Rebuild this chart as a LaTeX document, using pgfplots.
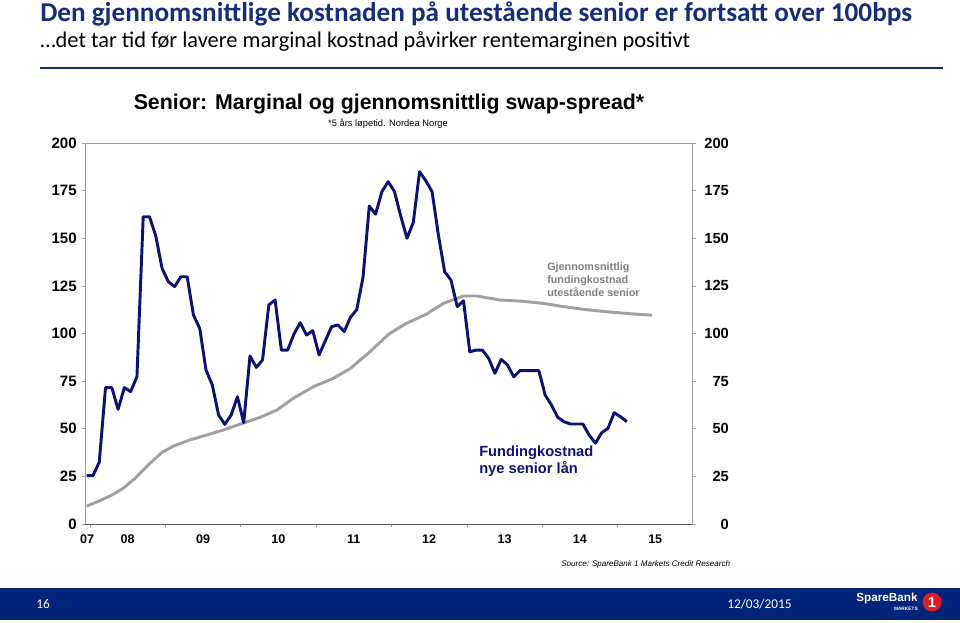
\documentclass[border=0pt]{standalone}
\usepackage{fontspec}
\usepackage{pgfplots}
\pgfplotsset{compat=1.18}
\setmainfont{Liberation Sans}
\newfontfamily\calfont{Carlito}
\definecolor{navyline}{RGB}{12,18,112}
\definecolor{titleblue}{RGB}{22,45,120}
\definecolor{barblue}{RGB}{0,36,122}
\definecolor{avggray}{RGB}{160,160,160}
\definecolor{spred}{RGB}{220,30,40}

\pgfplotstableread{
x y
0 25.4
1 25.4
2 32.4
3 71.6
4 71.6
5 60.2
6 71.6
7 69.5
8 77.3
9 161.3
10 161.3
11 151.2
12 134.2
13 127.2
14 124.6
15 129.8
16 129.8
17 109.7
18 102.7
19 80.8
20 73
21 57.2
22 52.3
23 57.2
24 66.8
25 53.2
26 88.2
27 82.2
28 86.1
29 115
30 117.6
31 91.3
32 91.3
33 99.7
34 105.7
35 99.2
36 101.5
37 88.7
38 96.2
39 103.6
40 104.5
41 101
42 108.5
43 112.5
44 129.5
45 166.9
46 162.6
47 174.4
48 179.7
49 174.6
50 161.7
51 150
52 158.2
53 184.9
54 180.2
55 174.4
56 151.7
57 132.4
58 128.1
59 114.1
60 117.2
61 90.4
62 91.3
63 91.3
64 87
65 79.1
66 86.4
67 83.5
68 77.3
69 80.5
70 80.5
71 80.5
72 80.5
73 67.7
74 62.5
75 56
76 53.7
77 52.5
78 52.5
79 52.5
80 46.7
81 42.4
82 47.9
83 50.2
84 58.4
85 56.3
86 53.7
}\newsenior

\pgfplotstableread{
x y
0 9.4
2.1 12.2
4 15.2
5.8 18.7
7.7 24
9.8 31
12 37.6
13.8 40.9
16.4 44.1
19.1 46.7
21.7 49.3
24.9 52.9
27.6 56
30.3 59.8
32.9 66
36.1 72.1
39.3 76.5
42 81.7
45.1 90.4
48 99.4
49.8 103.2
50.9 105.3
54.1 110.2
56.8 115.8
60 119.7
62.1 119.7
65.8 117.6
69.5 116.9
72.7 115.8
75.9 114.1
79.1 112.7
82.8 111.4
86.5 110.4
90 109.6
}\avgsenior

\begin{document}
\begin{tikzpicture}[x=0.75pt,y=0.75pt]
\path[use as bounding box] (0,0) rectangle (960,622);
% slide header
\node[anchor=west, inner sep=0pt, text=titleblue, font=\calfont\bfseries\fontsize{20.4}{23}\selectfont] at (40,622-14) {Den gjennomsnittlige kostnaden på utestående senior er fortsatt over 100bps};
\node[anchor=west, inner sep=0pt, text=black, font=\calfont\fontsize{16.8}{19}\selectfont] at (40,622-41) {…det tar tid før lavere marginal kostnad påvirker rentemarginen positivt};
\draw[titleblue, line width=1pt] (40,622-68) -- (943,622-68);

% chart titles
\node[inner sep=0pt, font=\bfseries\fontsize{16}{19}\selectfont] at (389,622-104) {Senior: Marginal og gjennomsnittlig swap-spread*};
\node[inner sep=0pt, font=\fontsize{7}{8}\selectfont] at (388,622-124) {*5 års løpetid. Nordea Norge};

\begin{axis}[
  at={(63.75pt,73.5pt)}, anchor=south west,
  scale only axis, width=455.55pt, height=285.75pt,
  xmin=-0.27, xmax=96.45, ymin=0, ymax=200,
  /pgf/number format/assume math mode=true,
  axis line style={gray!75, line width=0.6pt},
  tick style={gray!75, line width=0.5pt},
  tick align=outside, major tick length=2.5pt,
  tick pos=left,
  ytick={0,25,50,75,100,125,150,175,200},
  yticklabel style={font=\bfseries\fontsize{11.3}{13}\selectfont, anchor=east, inner sep=0pt, xshift=-3.5pt},
  xtick={0.53,12.53,24.53,36.53,48.53,60.53,72.53,84.53},
  xticklabels={},
  extra x ticks={0.05,6.53,18.53,30.53,42.53,54.53,66.53,78.53,90.53},
  extra x tick labels={07,08,09,10,11,12,13,14,15},
  extra x tick style={major tick length=0pt, xticklabel style={font=\bfseries\fontsize{9.4}{11}\selectfont, anchor=base, inner sep=0pt, yshift=-14.25pt}},
  clip=false,
]
\addplot[avggray, line width=2.2pt, line join=round] table[x=x,y=y] {\avgsenior};
\addplot[navyline, line width=2.2pt, line join=round] table[x=x,y=y] {\newsenior};
\draw[black!65, line width=0.7pt] (axis cs:-0.27,0) -- (axis cs:96.45,0);
\end{axis}
\begin{axis}[
  at={(63.75pt,73.5pt)}, anchor=south west,
  scale only axis, width=455.55pt, height=285.75pt,
  xmin=-0.27, xmax=96.45, ymin=0, ymax=200,
  /pgf/number format/assume math mode=true,
  axis y line*=right, axis x line=none,
  axis line style={gray!75, line width=0.6pt},
  tick style={gray!75, line width=0.5pt},
  tick align=outside, major tick length=2.5pt,
  ytick={0,25,50,75,100,125,150,175,200},
  yticklabel style={font=\bfseries\fontsize{11}{13}\selectfont, anchor=east, inner sep=0pt, xshift=25pt},
]
\end{axis}

% annotations
\node[anchor=north west, align=left, inner sep=0pt, text=gray, font=\bfseries\fontsize{8.1}{9.75}\selectfont] at (547,622-262) {Gjennomsnittlig\\fundingkostnad\\utestående senior};
\node[anchor=north west, align=left, inner sep=0pt, text=navyline, font=\bfseries\fontsize{11}{12.75}\selectfont] at (479,622-446) {Fundingkostnad\\nye senior lån};
\node[anchor=west, inner sep=0pt, font=\itshape\fontsize{6.05}{7}\selectfont] at (561,622-564) {Source: SpareBank 1 Markets Credit Research};

% footer bar
\fill[barblue] (0,622-620) rectangle (960,622-588);
\node[anchor=west, inner sep=0pt, text=white, font=\calfont\fontsize{10}{12}\selectfont] at (36,622-604) {16};
\node[anchor=west, inner sep=0pt, text=white, font=\calfont\fontsize{10}{12}\selectfont] at (727,622-604) {12/03/2015};
\node[anchor=west, inner sep=0pt, text=white, font=\bfseries\fontsize{8.8}{10}\selectfont] at (856,622-598) {SpareBank};
\node[anchor=east, inner sep=0pt, text=white, font=\bfseries\fontsize{3.6}{4}\selectfont] at (918,622-609) {MARKETS};
\fill[spred] (932,622-602) circle (9.5);
\node[inner sep=0pt, text=white, font=\bfseries\fontsize{11}{12}\selectfont] at (932,622-602) {1};
\end{tikzpicture}
\end{document}
